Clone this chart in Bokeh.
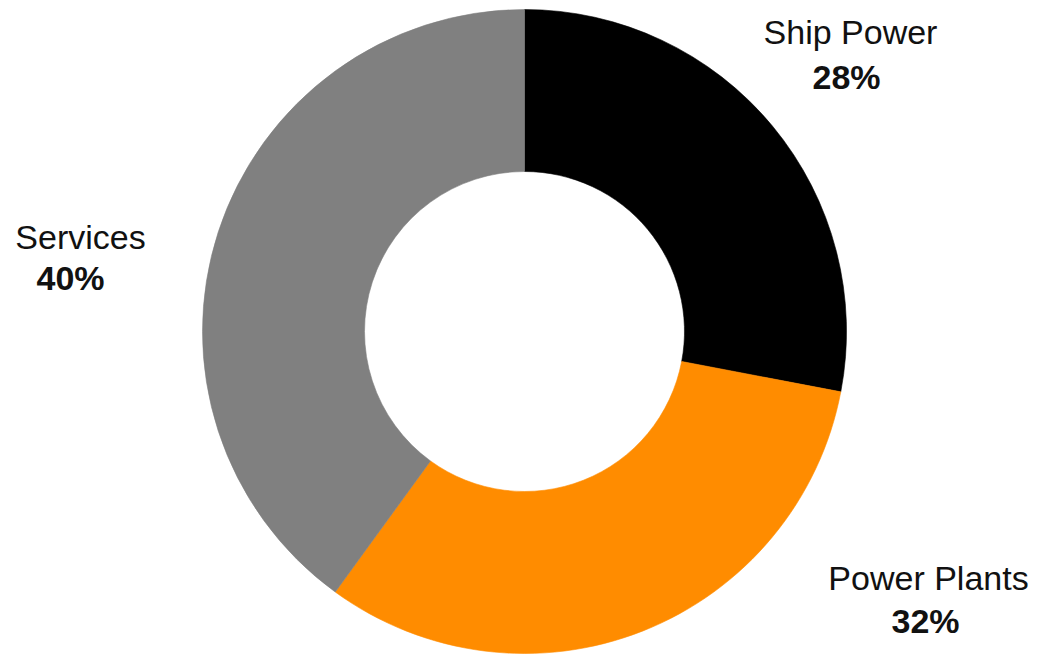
import math
from bokeh.plotting import figure
from bokeh.models import Range1d, ColumnDataSource
from bokeh.core.properties import value
from bokeh.embed import file_html
from bokeh.resources import INLINE

# ---- data ----
categories = ["Ship Power", "Power Plants", "Services"]
shares = [28, 32, 40]
pct_labels = ["28%", "32%", "40%"]
colors = ["#000000", "#FF8C00", "#808080"]

# ---- layout (pixels, y measured from top) ----
W, H = 1038, 657
cx, cy = 524, 331
outer_r, inner_r = 322, 160
name_pos = [(850, 31.5), (928, 577), (80, 236)]
pct_pos = [(846, 76), (925, 620), (70, 277)]

total = float(sum(shares))
starts, ends = [], []
cum = 0.0
for s in shares:
    a0 = math.pi / 2 - 2 * math.pi * (cum + s) / total
    a1 = math.pi / 2 - 2 * math.pi * cum / total
    starts.append(a0)
    ends.append(a1)
    cum += s

src = ColumnDataSource(dict(
    x=[cx] * len(shares), y=[H - cy] * len(shares),
    start=starts, end=ends, color=colors, cat=categories))

p = figure(width=W, height=H, x_range=Range1d(0, W), y_range=Range1d(0, H),
           output_backend="svg", toolbar_location=None, min_border=0,
           outline_line_color=None, background_fill_color="white")
p.axis.visible = False
p.grid.visible = False

p.annular_wedge(x="x", y="y", inner_radius=inner_r, outer_radius=outer_r,
                inner_radius_units="screen", outer_radius_units="screen",
                start_angle="start", end_angle="end", fill_color="color",
                line_color="color", line_width=0.6, source=src)

p.text(x=[q[0] for q in name_pos], y=[H - q[1] for q in name_pos], text=categories,
       text_font=value("Liberation Sans"), text_font_size="34px",
       text_align="center", text_baseline="alphabetic", text_color="#111111")
p.text(x=[q[0] for q in pct_pos], y=[H - q[1] for q in pct_pos], text=pct_labels,
       text_font=value("Liberation Sans"), text_font_size="34px", text_font_style="bold",
       text_align="center", text_baseline="alphabetic", text_color="#111111")

open("out.html", "w").write(file_html(p, INLINE))
